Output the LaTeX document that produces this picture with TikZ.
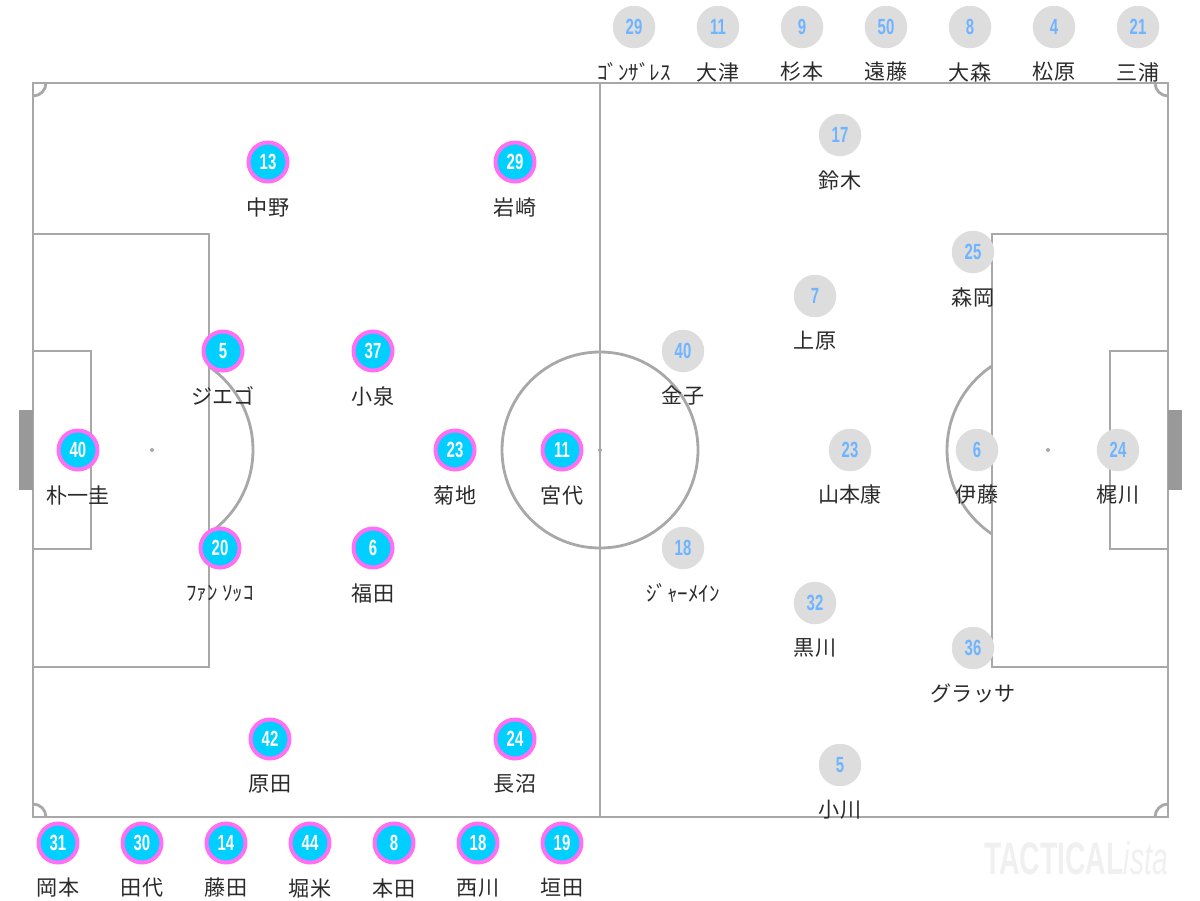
\documentclass[tikz,border=0pt]{standalone}
\usepackage{fontspec}
\setmainfont{Liberation Sans}
\newfontfamily\jpfont{Noto Sans CJK JP}
\newfontfamily\numfont[FakeStretch=0.68]{Liberation Sans}
\newfontfamily\wmfont[FakeStretch=0.62]{Liberation Sans}

\definecolor{linegray}{HTML}{A8A8A8}
\definecolor{goalgray}{HTML}{999999}
\definecolor{homefill}{HTML}{00CFFF}
\definecolor{homeedge}{HTML}{FF6EF5}
\definecolor{awayfill}{HTML}{DDDDDD}
\definecolor{awaynum}{HTML}{6EB4FF}
\definecolor{namegray}{HTML}{2A2A2A}
\definecolor{wmgray}{HTML}{F0F0F0}

\tikzset{
  pitch/.style={draw=linegray, line width=1.6pt},
  home/.style={circle, fill=homefill, draw=homeedge, line width=2.27pt,
    minimum size=0.78cm, inner sep=0pt, text=white,
    font=\numfont\bfseries\fontsize{12.5}{12.5}\selectfont},
  away/.style={circle, fill=awayfill, minimum size=0.85cm, inner sep=0pt,
    text=awaynum, font=\numfont\bfseries\fontsize{12.5}{12.5}\selectfont},
  pname/.style={text=namegray, inner sep=0pt,
    font=\jpfont\fontsize{12}{12}\selectfont},
}

\begin{document}
\begin{tikzpicture}[x=0.02cm, y=-0.02cm]
  \useasboundingbox (0,0) rectangle (1200,900);

  % --- Pitch ---
  \draw[pitch] (33,83) rectangle (1168,817);
  \draw[pitch] (600,83) -- (600,817);
  \draw[pitch] (600,450) circle (98);
  \draw[pitch] (33,234) rectangle (209,667);
  \draw[pitch] (33,351) rectangle (91,549);
  \draw[pitch] (1168,234) rectangle (992,667);
  \draw[pitch] (1168,351) rectangle (1110,549);
  \fill[linegray] (600,450) circle (2) (152,450) circle (2) (1048,450) circle (2);
  \fill[goalgray] (19,410) rectangle (33,490);
  \fill[goalgray] (1168,410) rectangle (1182,490);

  % --- Arcs ---
  \begin{scope}
    \clip (209,83) rectangle (400,817);
    \draw[pitch] (152,450) circle (101);
  \end{scope}
  \begin{scope}
    \clip (800,83) rectangle (992,817);
    \draw[pitch] (1048,450) circle (101);
  \end{scope}
  \begin{scope}
    \clip (33,83) rectangle (1168,817);
    \draw[pitch] (33,83) circle (13) (1168,83) circle (13)
      (33,817) circle (13) (1168,817) circle (13);
  \end{scope}

  % --- Home team ---
  \foreach \x/\y/\n/\nm [count=\i] in {268/162/13/中野, 515/162/29/岩崎,
      223/351/5/ジエゴ, 373/351/37/小泉, 78/450/40/朴一圭, 455/450/23/菊地,
      562/450/11/宮代, 220/548/20/{ﾌｧﾝ ｿｯｺ}, 373/548/6/福田,
      270/739/42/原田, 515/739/24/長沼,
      58/843/31/岡本, 142/843/30/田代, 226/843/14/藤田, 310/843/44/堀米,
      394/843/8/本田, 478/843/18/西川, 562/843/19/垣田} {
    \node[home] (h\i) at (\x,\y) {\n};
    \node[pname] (hn\i) at (\x,\y+45) {\nm};
  }

  % --- Away team ---
  \foreach \x/\y/\n/\nm [count=\i] in {840/135/17/鈴木, 973/252/25/森岡,
      815/296/7/上原, 683/351/40/金子, 850/450/23/山本康, 977/450/6/伊藤,
      1118/450/24/梶川, 683/548/18/ｼﾞｬｰﾒｲﾝ, 815/603/32/黒川,
      973/648/36/グラッサ, 840/765/5/小川,
      634/27/29/ｺﾞﾝｻﾞﾚｽ, 718/27/11/大津, 802/27/9/杉本, 886/27/50/遠藤,
      970/27/8/大森, 1054/27/4/松原, 1138/27/21/三浦} {
    \node[away] (a\i) at (\x,\y) {\n};
    \node[pname] (an\i) at (\x,\y+45) {\nm};
  }

  % --- Watermark ---
  \node[text=wmgray, inner sep=0pt] (wm) at (1076,858)
    {\wmfont\bfseries\fontsize{26}{26}\selectfont TACTICAL\mdseries\itshape ista};

\end{tikzpicture}
\end{document}
